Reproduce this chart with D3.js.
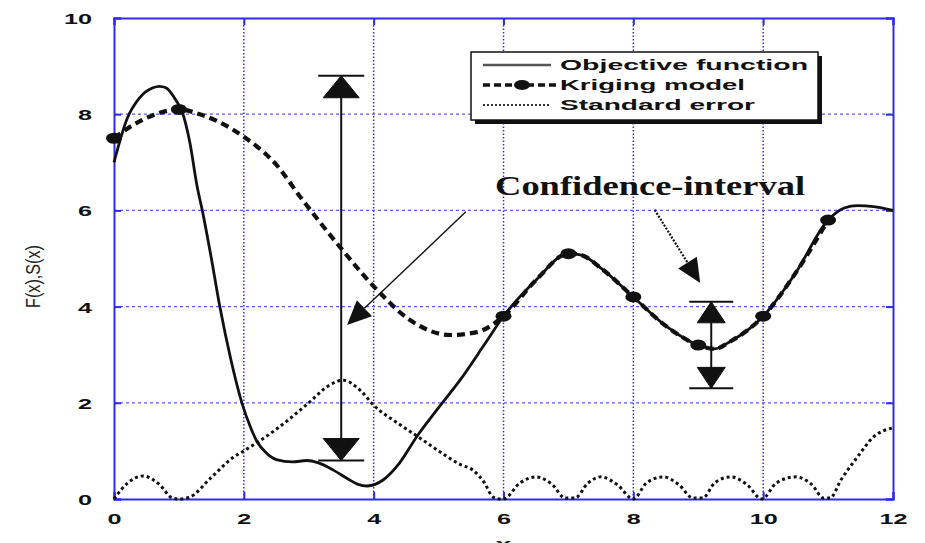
<!DOCTYPE html>
<html>
<head>
<meta charset="utf-8">
<script src="https://cdn.jsdelivr.net/npm/d3@7"></script>
<style>
  body { margin: 0; background: #fff; }
  svg { display: block; }
</style>
</head>
<body>
<div id="chart"></div>
<script>
// -------------------- DATA --------------------

// fonction objectif (courbe pleine)
var objX = [0, 0.2, 0.4, 0.6, 0.7, 0.8, 0.95, 1.05, 1.17, 1.28, 1.36, 1.5, 1.63, 1.8, 1.97, 2.1, 2.2, 2.35, 2.5, 2.75, 2.97, 3.15, 3.38, 3.6, 3.75, 3.9, 4.15, 4.4, 4.66, 5.0, 5.33, 5.7, 6.0, 6.5, 7.0, 7.2, 7.5, 8.0, 8.5, 9.0, 9.25, 9.5, 10.0, 10.5, 11.0, 11.25, 11.45, 11.7, 12.0];
var objY = [7.0, 7.9, 8.35, 8.55, 8.58, 8.55, 8.3, 8.05, 7.4, 6.5, 6.0, 5.0, 4.0, 2.9, 2.0, 1.5, 1.2, 0.95, 0.82, 0.77, 0.8, 0.75, 0.6, 0.42, 0.31, 0.27, 0.4, 0.75, 1.29, 1.9, 2.47, 3.2, 3.8, 4.55, 5.1, 5.07, 4.8, 4.2, 3.6, 3.2, 3.12, 3.28, 3.8, 4.7, 5.8, 6.05, 6.1, 6.08, 6.0];

// modele de krigeage (tirets + points)
var krigX = [0, 0.3, 0.6, 1.0, 1.32, 1.6, 2.0, 2.5, 2.87, 3.48, 4.05, 4.56, 5.18, 5.59, 6.0, 6.5, 7.0, 7.2, 7.5, 8.0, 8.5, 9.0, 9.25, 9.5, 10.0, 10.5, 11.0];
var krigY = [7.5, 7.78, 7.98, 8.1, 8.0, 7.85, 7.53, 6.95, 6.28, 5.24, 4.35, 3.72, 3.41, 3.47, 3.8, 4.55, 5.1, 5.07, 4.8, 4.2, 3.6, 3.2, 3.12, 3.28, 3.8, 4.7, 5.8];

// points d'echantillonnage
var sampleX = [0, 1, 6, 7, 8, 9, 10, 11];
var sampleY = [7.5, 8.1, 3.8, 5.1, 4.2, 3.2, 3.8, 5.8];

// erreur standard (pointilles)
var errX = [0, 0.2, 0.45, 0.7, 0.9, 1.0, 1.15, 1.5, 1.84, 2.0, 2.5, 3.0, 3.3, 3.53, 3.8, 4.0, 4.4, 4.71, 5.02, 5.33, 5.53, 5.7, 5.84, 5.95,
  6.0, 6.25, 6.5, 6.75, 6.95, 7.1, 7.3, 7.5, 7.75, 8.0, 8.2, 8.46, 8.7, 8.92, 9.07, 9.25, 9.5, 9.75, 9.98, 10.2, 10.5, 10.75, 10.93, 11.03, 11.2, 11.45, 11.7, 12.0];
var errY = [0, 0.32, 0.48, 0.3, 0.02, 0, 0.03, 0.45, 0.87, 1.0, 1.45, 2.0, 2.35, 2.47, 2.25, 1.95, 1.55, 1.27, 0.98, 0.72, 0.6, 0.35, 0.04, 0,
  0, 0.33, 0.46, 0.3, 0.02, 0.02, 0.33, 0.46, 0.3, 0, 0.33, 0.46, 0.3, 0.02, 0.02, 0.33, 0.46, 0.3, 0, 0.33, 0.46, 0.3, 0.02, 0.02, 0.4, 0.87, 1.29, 1.48];

var xTicks = [0, 2, 4, 6, 8, 10, 12];
var yTicks = [0, 2, 4, 6, 8, 10];

var legendLabels = ["Objective function", "Kriging model", "Standard error"];

// intervalles de confiance : [x, y haut, y bas]
var bigInterval = [3.5, 8.8, 0.8];
var smallInterval = [9.2, 4.1, 2.3];

// fleches : [x depart, y depart, x pointe, y pointe]
var arrows = [[5.42, 5.97, 3.59, 3.62], [8.33, 6.01, 9.03, 4.49]];
var annotation = { text: "Confidence-interval", x: 5.87, y: 6.32 };

// -------------------- GRAPHIQUE --------------------

var width = 925;
var height = 543;
var margin = { top: 18, right: 32, bottom: 44, left: 114 };
var blue = "#2d2de6";

var svg = d3.select("#chart")
  .append("svg")
  .attr("width", width)
  .attr("height", height);

svg.append("rect")
  .attr("width", width)
  .attr("height", height)
  .attr("fill", "#fff");

var x = d3.scaleLinear().domain([0, 12]).range([margin.left, width - margin.right]);
var y = d3.scaleLinear().domain([0, 10]).range([height - margin.bottom, margin.top]);

// grille pointillee
svg.append("g")
  .selectAll("line")
  .data(xTicks.slice(1, -1))
  .enter()
  .append("line")
  .attr("x1", d => x(d)).attr("x2", d => x(d))
  .attr("y1", y(10)).attr("y2", y(0))
  .attr("stroke", blue)
  .attr("stroke-width", 1.5)
  .attr("stroke-dasharray", "1.5,2");

svg.append("g")
  .selectAll("line")
  .data(yTicks.slice(1, -1))
  .enter()
  .append("line")
  .attr("x1", x(0)).attr("x2", x(12))
  .attr("y1", d => y(d)).attr("y2", d => y(d))
  .attr("stroke", "#5a5aee")
  .attr("stroke-width", 1.3)
  .attr("stroke-dasharray", "3,3");

// axes (ticks vers l'interieur)
var xAxis = svg.append("g")
  .attr("transform", "translate(0," + y(0) + ")")
  .call(d3.axisBottom(x).tickValues(xTicks).tickSize(-7).tickPadding(14).tickFormat(d3.format("d")));
var xAxisTop = svg.append("g")
  .attr("transform", "translate(0," + y(10) + ")")
  .call(d3.axisTop(x).tickValues(xTicks).tickSize(-7).tickFormat(""));
var yAxis = svg.append("g")
  .attr("transform", "translate(" + x(0) + ",0)")
  .call(d3.axisLeft(y).tickValues(yTicks).tickSize(-7).tickPadding(22).tickFormat(d3.format("d")));
var yAxisRight = svg.append("g")
  .attr("transform", "translate(" + x(12) + ",0)")
  .call(d3.axisRight(y).tickValues(yTicks).tickSize(-7).tickFormat(""));

[xAxis, xAxisTop, yAxis, yAxisRight].forEach(function (a) {
  a.select(".domain").attr("stroke", blue).attr("stroke-width", 2);
  a.selectAll(".tick line").attr("stroke", blue).attr("stroke-width", 2);
});

// etiquettes des ticks : gras et etirees horizontalement
[xAxis, yAxis].forEach(function (a) {
  a.selectAll(".tick text")
    .attr("fill", "#111")
    .style("font-family", "Liberation Sans, Arial, sans-serif")
    .style("font-weight", "bold")
    .style("font-size", "15px")
    .attr("textLength", function () { return this.textContent.length * 14; })
    .attr("lengthAdjust", "spacingAndGlyphs");
});
yAxis.selectAll(".tick text").attr("dy", "0.36em");

// titres des axes
svg.append("text")
  .attr("transform", "translate(40," + (y(5) + 18) + ") scale(1.7,1) rotate(-90)")
  .attr("text-anchor", "middle")
  .attr("textLength", 63)
  .attr("lengthAdjust", "spacingAndGlyphs")
  .style("font-family", "Liberation Sans, Arial, sans-serif")
  .style("font-size", "12px")
  .attr("fill", "#222")
  .text("F(x),S(x)");

svg.append("text")
  .attr("x", x(6))
  .attr("y", height + 6)
  .attr("text-anchor", "middle")
  .attr("textLength", 16)
  .attr("lengthAdjust", "spacingAndGlyphs")
  .style("font-family", "Liberation Sans, Arial, sans-serif")
  .style("font-weight", "bold")
  .style("font-size", "15px")
  .attr("fill", "#222")
  .text("x");

// -------------------- COURBES --------------------

var line = d3.line()
  .x(d => x(d[0]))
  .y(d => y(d[1]))
  .curve(d3.curveMonotoneX);

var errData = d3.zip(errX, errY);
var objData = d3.zip(objX, objY);
var krigData = d3.zip(krigX, krigY);

svg.append("path")
  .datum(errData)
  .attr("d", line)
  .attr("fill", "none")
  .attr("stroke", "#111")
  .attr("stroke-width", 3)
  .attr("stroke-dasharray", "3,3");

svg.append("path")
  .datum(objData)
  .attr("d", line)
  .attr("fill", "none")
  .attr("stroke", "#111")
  .attr("stroke-width", 2.8);

svg.append("path")
  .datum(krigData)
  .attr("d", line)
  .attr("fill", "none")
  .attr("stroke", "#111")
  .attr("stroke-width", 4.2)
  .attr("stroke-dasharray", "8,5");

svg.append("g")
  .selectAll("ellipse")
  .data(d3.zip(sampleX, sampleY))
  .enter()
  .append("ellipse")
  .attr("cx", d => x(d[0]))
  .attr("cy", d => y(d[1]))
  .attr("rx", 8)
  .attr("ry", 5.5)
  .attr("fill", "#111");

// -------------------- INTERVALLES DE CONFIANCE --------------------

function drawInterval(iv, triW, triH, barW) {
  var cx = x(iv[0]);
  var top = y(iv[1]);
  var bot = y(iv[2]);
  var g = svg.append("g").attr("fill", "#111").attr("stroke", "#111");
  g.append("line").attr("x1", cx).attr("x2", cx).attr("y1", top).attr("y2", bot).attr("stroke-width", 2);
  g.append("line").attr("x1", cx - barW / 2).attr("x2", cx + barW / 2).attr("y1", top).attr("y2", top).attr("stroke-width", 2);
  g.append("line").attr("x1", cx - barW / 2).attr("x2", cx + barW / 2).attr("y1", bot).attr("y2", bot).attr("stroke-width", 2);
  g.append("path")
    .attr("d", "M" + cx + "," + top + "L" + (cx - triW / 2) + "," + (top + triH) + "L" + (cx + triW / 2) + "," + (top + triH) + "Z")
    .attr("stroke-width", 1);
  g.append("path")
    .attr("d", "M" + cx + "," + bot + "L" + (cx - triW / 2) + "," + (bot - triH) + "L" + (cx + triW / 2) + "," + (bot - triH) + "Z")
    .attr("stroke-width", 1);
}

drawInterval(bigInterval, 36, 22, 46);
drawInterval(smallInterval, 28, 21, 44);

// fleches vers les intervalles
arrows.forEach(function (a, i) {
  var x1 = x(a[0]), y1 = y(a[1]), x2 = x(a[2]), y2 = y(a[3]);
  var ang = Math.atan2(y2 - y1, x2 - x1);
  var len = 24, half = 11;
  var bx = x2 - len * Math.cos(ang), by = y2 - len * Math.sin(ang);
  svg.append("line")
    .attr("x1", x1).attr("y1", y1).attr("x2", bx).attr("y2", by)
    .attr("stroke", "#111")
    .attr("stroke-width", i == 0 ? 1.4 : 2.2)
    .attr("stroke-dasharray", i == 0 ? null : "2,1.5");
  svg.append("path")
    .attr("d", "M" + x2 + "," + y2 +
      "L" + (bx + half * Math.sin(ang)) + "," + (by - half * Math.cos(ang)) +
      "L" + (bx - half * Math.sin(ang)) + "," + (by + half * Math.cos(ang)) + "Z")
    .attr("fill", "#111");
});

svg.append("text")
  .attr("x", x(annotation.x))
  .attr("y", y(annotation.y))
  .attr("textLength", 310)
  .attr("lengthAdjust", "spacingAndGlyphs")
  .style("font-family", "Liberation Serif, Times New Roman, serif")
  .style("font-weight", "bold")
  .style("font-size", "27px")
  .attr("fill", "#111")
  .text(annotation.text);

// -------------------- LEGENDE --------------------

var lg = svg.append("g");
lg.append("rect")
  .attr("x", 475).attr("y", 56).attr("width", 347).attr("height", 68)
  .attr("fill", "#111");
lg.append("rect")
  .attr("x", 471).attr("y", 52).attr("width", 347).attr("height", 68)
  .attr("fill", "#fff")
  .attr("stroke", "#111")
  .attr("stroke-width", 1.5);

var legendWidths = [248, 185, 195];
var legendY = [65, 85, 105];

lg.append("line").attr("x1", 483).attr("x2", 551).attr("y1", legendY[0]).attr("y2", legendY[0])
  .attr("stroke", "#555").attr("stroke-width", 2.5);
lg.append("line").attr("x1", 483).attr("x2", 558).attr("y1", legendY[1]).attr("y2", legendY[1])
  .attr("stroke", "#111").attr("stroke-width", 3.5).attr("stroke-dasharray", "7,4");
lg.append("ellipse").attr("cx", 522).attr("cy", legendY[1]).attr("rx", 8).attr("ry", 5).attr("fill", "#111");
lg.append("line").attr("x1", 483).attr("x2", 550).attr("y1", legendY[2]).attr("y2", legendY[2])
  .attr("stroke", "#333").attr("stroke-width", 2).attr("stroke-dasharray", "2,2");

lg.selectAll("text")
  .data(legendLabels)
  .enter()
  .append("text")
  .attr("x", 560)
  .attr("y", (d, i) => legendY[i])
  .attr("dy", "0.36em")
  .attr("textLength", (d, i) => legendWidths[i])
  .attr("lengthAdjust", "spacingAndGlyphs")
  .style("font-family", "Liberation Sans, Arial, sans-serif")
  .style("font-weight", "bold")
  .style("font-size", "14px")
  .attr("fill", "#111")
  .text(d => d);
</script>
</body>
</html>
